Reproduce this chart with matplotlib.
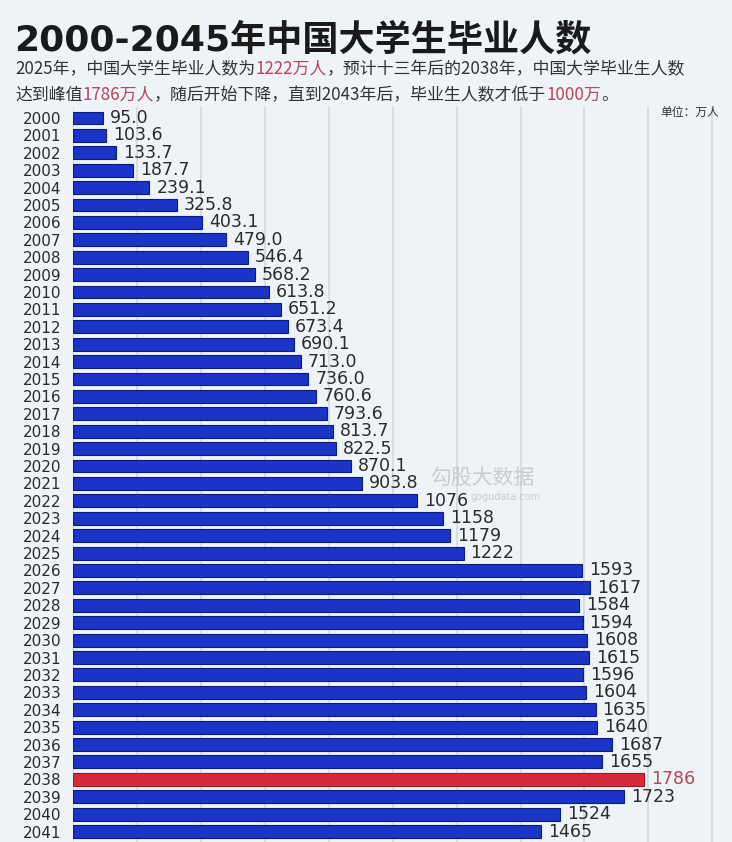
import matplotlib
matplotlib.use("Agg")
import matplotlib.pyplot as plt

# ---- data ----
years = [str(y) for y in range(2000, 2042)]
values = [95.0, 103.6, 133.7, 187.7, 239.1, 325.8, 403.1, 479.0, 546.4, 568.2,
          613.8, 651.2, 673.4, 690.1, 713.0, 736.0, 760.6, 793.6, 813.7, 822.5,
          870.1, 903.8, 1076, 1158, 1179, 1222, 1593, 1617, 1584, 1594,
          1608, 1615, 1596, 1604, 1635, 1640, 1687, 1655, 1786, 1723,
          1524, 1465]
peak_year = "2038"
title = "2000-2045年中国大学生毕业人数"
sub_line1 = [("2025年，中国大学生毕业人数为", False), ("1222万人", True),
             ("，预计十三年后的2038年，中国大学毕业生人数", False)]
sub_line2 = [("达到峰值", False), ("1786万人", True),
             ("，随后开始下降，直到2043年后，毕业生人数才低于", False),
             ("1000万", True), ("。", False)]
unit_text = "单位：万人"

W, H = 732, 842
BG = "#edf3f7"
BLUE = "#1b33c6"
BLUE_EDGE = "#0d1a7e"
RED = "#d62a3a"
TXT = "#2b2b2b"
SUB_RED = "#b8465a"
CJK = ["Noto Sans CJK SC", "DejaVu Sans"]

fig = plt.figure(figsize=(W / 100, H / 100), dpi=100, facecolor=BG)

# axes: x=0 at px 73, right edge at px 728; top at px 107, bottom at figure bottom
ax_left, ax_right, ax_top = 73, 728, 107
ax = fig.add_axes([ax_left / W, 0, (ax_right - ax_left) / W, (H - ax_top) / H])
ax.set_facecolor(BG)

idx = list(range(len(years)))
colors = [RED if y == peak_year else BLUE for y in years]
edges = ["#a01828" if y == peak_year else BLUE_EDGE for y in years]
ax.barh(idx, values, height=0.74, color=colors, edgecolor=edges, linewidth=0.8, zorder=3)

ax.set_xlim(0, 2049)
ax.set_ylim(41.6, -0.63)
ax.set_xticks(range(0, 2050, 200))
ax.set_xticklabels([])
ax.grid(axis="x", color="#d5dbe0", linewidth=1.3, zorder=0)
ax.grid(axis="y", visible=False)
ax.set_axisbelow(True)
for s in ax.spines.values():
    s.set_visible(False)
ax.tick_params(axis="x", length=0)
ax.set_yticks(idx)
ax.set_yticklabels(years, fontsize=11, color=TXT, family="DejaVu Sans")
ax.tick_params(axis="y", length=0, pad=8.5)

for i, (y, v) in enumerate(zip(years, values)):
    lab = f"{v:.1f}" if v < 1000 else f"{v:.0f}"
    ax.annotate(lab, (v, i), xytext=(5, 0), textcoords="offset points",
                va="center", ha="left", fontsize=12.5, family="DejaVu Sans",
                color=(SUB_RED if y == peak_year else TXT), zorder=4)

# ---- title & subtitle ----
fig.text(14 / W, 1 - 51 / H, title, fontsize=26, fontweight="heavy",
         family=["DejaVu Sans", "Noto Sans CJK SC"], color="#1a1a1a", va="baseline")

renderer = fig.canvas.get_renderer()


def draw_segments(segments, x_px, base_px, size):
    x = x_px
    for txt, red in segments:
        t = fig.text(x / W, 1 - base_px / H, txt, fontsize=size, family=CJK,
                     color=(SUB_RED if red else "#333333"), va="baseline")
        bb = t.get_window_extent(renderer)
        x += bb.width


draw_segments(sub_line1, 15, 74, 12.2)
draw_segments(sub_line2, 15, 100, 12.2)

fig.text(719 / W, 1 - 112 / H, unit_text, fontsize=8.5, family=CJK,
         color="#333333", ha="right", va="center")

# watermark
fig.text(430 / W, 1 - 478 / H, "勾股大数据", fontsize=15, family=CJK,
         color="#b9bdc2", alpha=0.7, va="center", zorder=10)
fig.text(470 / W, 1 - 497 / H, "gogudata.com", fontsize=7, family="DejaVu Sans",
         color="#b9bdc2", alpha=0.7, va="center", zorder=10)

fig.savefig("out.png", dpi=100, facecolor=BG)
